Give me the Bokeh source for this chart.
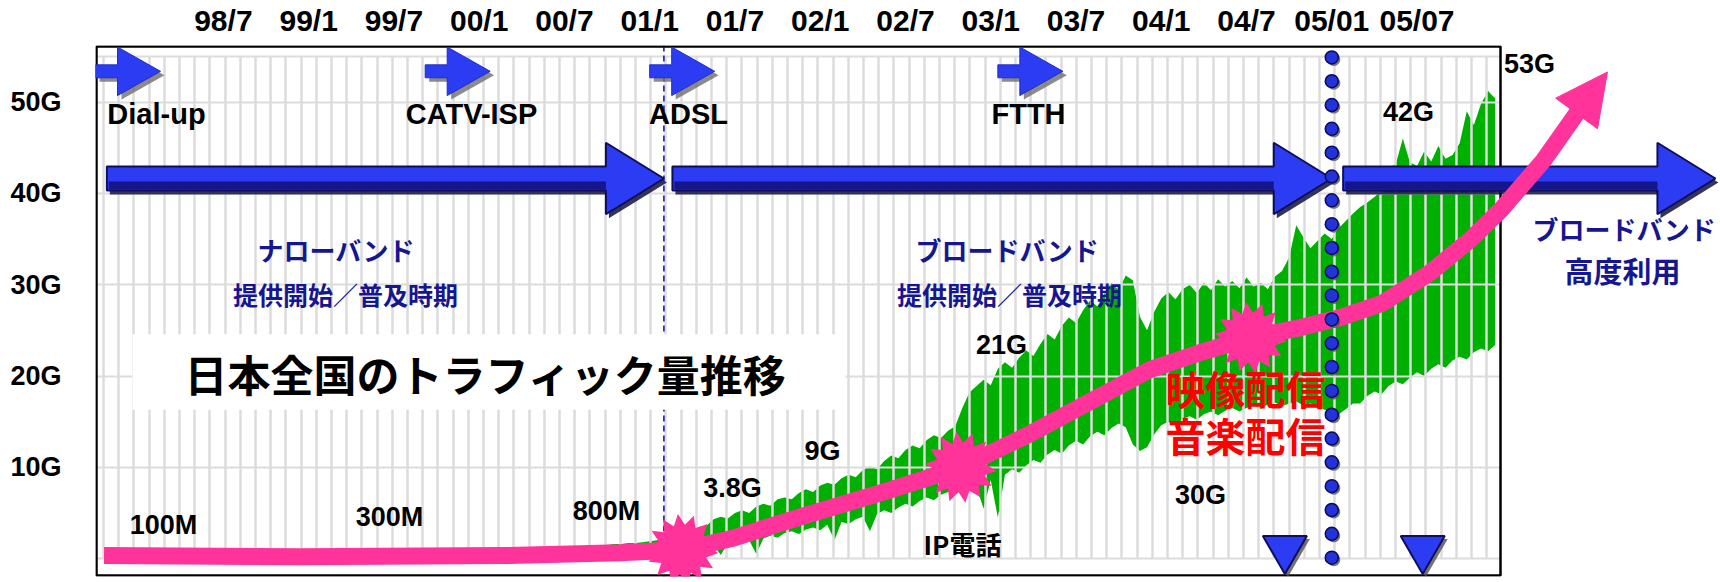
import numpy as np
from bokeh.plotting import figure
from bokeh.models import Range1d, LinearAxis, FixedTicker, Grid, Span
from bokeh.core.properties import value
from bokeh.embed import file_html
from bokeh.resources import INLINE

FONT = "Noto Sans CJK JP"
LATIN = "Liberation Sans"

# ---------------- data ----------------
# x = months since 1998/01
month_ticks = [6, 12, 18, 24, 30, 36, 42, 48, 54, 60, 66, 72, 78, 84, 90]
month_labels = ["98/7", "99/1", "99/7", "00/1", "00/7", "01/1", "01/7", "02/1",
                "02/7", "03/1", "03/7", "04/1", "04/7", "05/01", "05/07"]
gbps_ticks = [10, 20, 30, 40, 50]
gbps_labels = ["10G", "20G", "30G", "40G", "50G"]

# traffic samples, every half month from 2000/08 (month 31.0) to 2005/12 (95.5)
green_months = np.arange(31.0, 96.0, 0.5)
traffic_peak = [
    1.3, 1.4, 1.4, 1.5, 1.5, 1.6, 1.6, 1.7, 1.7, 1.8,
    1.9, 2.0, 2.2, 2.6, 2.9, 2.7, 3.2, 3.5, 3.6, 4.3,
    4.6, 4.4, 5.0, 5.3, 5.0, 5.7, 6.0, 5.8, 6.5, 6.7,
    6.5, 7.2, 7.6, 7.3, 8.0, 8.3, 8.1, 8.8, 9.2, 8.9,
    9.7, 10.1, 9.8, 10.7, 11.3, 11.0, 11.9, 12.4, 12.1, 13.0,
    13.5, 13.2, 14.0, 14.5, 16.5, 18.2, 18.9, 19.6, 19.0, 20.8,
    21.5, 20.9, 22.0, 22.8, 22.2, 23.5, 24.6, 24.0, 25.5, 26.4,
    25.8, 27.2, 28.3, 27.6, 29.0, 30.2, 29.4, 31.0, 30.5, 26.5,
    25.0, 27.0, 28.5, 29.2, 28.4, 29.5, 30.0, 29.1, 30.2, 29.4,
    30.6, 29.8, 30.4, 29.6, 30.8, 29.8, 30.2, 29.5, 30.9, 31.5,
    33.0, 36.5, 35.2, 34.0, 34.8, 35.6, 35.0, 36.2, 37.0, 37.8,
    38.5, 39.0, 39.6, 40.3, 42.8, 43.2, 46.0, 43.4, 43.0, 44.6,
    43.5, 45.2, 43.8, 44.2, 45.5, 49.0, 47.5, 49.8, 51.2, 50.4,
]
traffic_low = [
    0.6, 0.6, 0.6, 0.7, 0.7, 0.7, 0.7, 0.8, 0.8, 0.8,
    0.8, 0.9, 0.9, 1.0, 1.1, 0.9, 1.2, 1.3, 1.1, 1.5,
    0.4, 1.7, 1.8, 1.6, 2.0, 0.5, 2.2, 2.5, 2.3, 2.8,
    3.0, 2.7, 3.2, 3.4, 3.1, 3.7, 2.0, 4.0, 3.8, 4.3,
    4.6, 3.0, 4.9, 5.3, 5.0, 5.6, 6.0, 5.7, 6.3, 6.7,
    6.4, 7.0, 7.3, 7.0, 7.6, 8.0, 7.8, 5.5, 8.6, 4.5,
    9.2, 9.8, 9.4, 10.2, 10.8, 10.5, 11.4, 11.9, 11.5, 12.4,
    12.9, 12.5, 13.4, 13.9, 13.5, 14.3, 14.8, 14.4, 12.5, 11.8,
    12.2, 13.6, 14.6, 15.0, 14.6, 15.3, 15.6, 15.2, 15.8, 16.1,
    15.7, 16.2, 16.5, 16.1, 16.5, 16.8, 16.4, 16.9, 17.1, 16.7,
    17.0, 17.2, 16.8, 17.0, 16.6, 16.3, 16.0, 15.8, 16.4, 17.0,
    17.0, 17.8, 18.3, 18.0, 18.9, 19.4, 19.1, 19.8, 20.4, 20.0,
    20.8, 21.3, 20.9, 21.7, 22.1, 21.8, 22.6, 23.0, 22.7, 23.4,
]

# pink trend curve (months, Gbps) and its arrow tip
trend_months = [-2.4, 11.4, 25.5, 33.9, 38.3, 41.7, 46.6, 52.2, 57.9, 62.8, 67.0,
                71.2, 74.8, 78.3, 81.8, 84.6, 87.6, 90.9, 93.8, 95.9, 98.9, 101.3]
trend_gbps = [0.33, 0.22, 0.33, 0.65, 0.98, 2.17, 4.57, 7.17, 10.0, 13.7, 17.2,
              20.7, 22.6, 24.2, 25.3, 26.4, 28.0, 31.3, 35.0, 38.2, 43.6, 48.9]
trend_tip = (103.4, 53.3)

milestone_months = [38.3, 57.9, 78.3]
milestone_gbps = [1.0, 10.0, 24.2]

tech_names = ["Dial-up", "CATV-ISP", "ADSL", "FTTH"]
tech_start = [-3.0, 20.2, 36.0, 60.5]

period_start = [-2.2, 37.6, 84.8]
period_end = [37.0, 84.0, 111.0]
adsl_boundary = 37.0
broadband_boundary = 84.0
event_months = [80.7, 90.4]

# ---------------- pixel helpers (layout only) ----------------
X0_PX, M0, PX_PER_M = 95.0, -3.0, 14.21
Y0_PX, PX_PER_G = 558.0, 9.2


def mx(px):
    return M0 + (px - X0_PX) / PX_PER_M


def gy(py):
    return (Y0_PX - py) / PX_PER_G


def pxm(m):
    return X0_PX + (m - M0) * PX_PER_M


def pyg(g):
    return Y0_PX - g * PX_PER_G


p = figure(width=1720, height=582,
           x_range=Range1d(mx(95), mx(1720)), y_range=Range1d(gy(576), gy(41)),
           output_backend="svg", toolbar_location=None,
           x_axis_location=None, y_axis_location=None,
           min_border_left=95, min_border_right=0, min_border_top=41, min_border_bottom=6,
           outline_line_color=None, background_fill_color="white", border_fill_color="white")

p.center = [r for r in p.center if not isinstance(r, Grid)]

# axes
ax_top = LinearAxis(ticker=FixedTicker(ticks=month_ticks),
                    major_label_overrides={t: l for t, l in zip(month_ticks, month_labels)},
                    axis_line_color=None, major_tick_line_color=None, minor_tick_line_color=None,
                    major_label_text_font=LATIN, major_label_text_font_size="30px",
                    major_label_text_font_style="bold",
                    major_label_text_color="black", major_label_standoff=3)
p.add_layout(ax_top, "above")
ax_left = LinearAxis(ticker=FixedTicker(ticks=gbps_ticks),
                     major_label_overrides={t: l for t, l in zip(gbps_ticks, gbps_labels)},
                     axis_line_color=None, major_tick_line_color=None, minor_tick_line_color=None,
                     major_label_text_font=LATIN, major_label_text_font_size="27px",
                     major_label_text_font_style="bold",
                     major_label_text_color="black", major_label_standoff=28)
p.add_layout(ax_left, "left")

# green traffic band (below grid)
g = p.varea(x=green_months, y1=traffic_low, y2=traffic_peak, fill_color="#00b000")
g.level = "image"

# grids
vticks = list(np.arange(mx(103), mx(1500), 15.2 / PX_PER_M))
try:
    xg = Grid(dimension=0, ticker=FixedTicker(ticks=vticks), grid_line_color="#dcdcdc",
              grid_line_width=2.5, cross_bounds=(0, 55))
    yg = Grid(dimension=1, ticker=FixedTicker(ticks=[0, 10, 20, 30, 40, 50, 55]),
              grid_line_color="#dcdcdc", grid_line_width=2, cross_bounds=(mx(95), mx(1500)))
except Exception:
    xg = Grid(dimension=0, ticker=FixedTicker(ticks=vticks), grid_line_color="#dcdcdc",
              grid_line_width=2.5)
    yg = Grid(dimension=1, ticker=FixedTicker(ticks=[0, 10, 20, 30, 40, 50, 55]),
              grid_line_color="#dcdcdc", grid_line_width=2)
p.add_layout(xg, "center")
p.add_layout(yg, "center")

p.add_layout(Span(location=adsl_boundary, dimension="height", line_color="#1c1c96",
                  line_dash="6 4", line_width=1.6, level="underlay"))

# frame border
p.quad(left=[mx(96)], right=[mx(1500)], bottom=[gy(575)], top=[gy(42)],
       fill_color=None, line_color="black", line_width=2.5)


def to_data(xs_px, ys_px):
    return [mx(x) for x in xs_px], [gy(y) for y in ys_px]


# big period arrows
yc = 175.0
sh_xs, sh_ys, ar_xs, ar_ys, band_xs, band_ys = [], [], [], [], [], []
for s, e in zip(period_start, period_end):
    x0, tip = pxm(s), pxm(e)
    hb = tip - 58
    xs = [x0, hb, hb, tip, hb, hb, x0]
    ys = [yc - 12, yc - 12, yc - 36, yc, yc + 36, yc + 12, yc + 12]
    a, b = to_data([x + 3 for x in xs], [y + 4 for y in ys])
    sh_xs.append(a); sh_ys.append(b)
    a, b = to_data(xs, ys)
    ar_xs.append(a); ar_ys.append(b)
    a, b = to_data([x0 + 2, hb, hb, x0 + 2], [yc + 3, yc + 3, yc + 11, yc + 11])
    band_xs.append(a); band_ys.append(b)
p.patches(sh_xs, sh_ys, fill_color="#101040", line_color=None, fill_alpha=0.85)
p.patches(ar_xs, ar_ys, fill_color="#2b3cf2", line_color="#0e0e5a", line_width=2)
p.patches(band_xs, band_ys, fill_color="#15158c", line_color=None)

# small technology arrows
yc2 = 67.0
s_xs, s_ys, a_xs, a_ys = [], [], [], []
for s in tech_start:
    x0 = pxm(s)
    xs = [x0, x0 + 22, x0 + 22, x0 + 65, x0 + 22, x0 + 22, x0]
    ys = [yc2 - 6.5, yc2 - 6.5, yc2 - 24.5, yc2, yc2 + 24.5, yc2 + 6.5, yc2 + 6.5]
    a, b = to_data([x + 4 for x in xs], [y + 4 for y in ys])
    s_xs.append(a); s_ys.append(b)
    a, b = to_data(xs, ys)
    a_xs.append(a); a_ys.append(b)
p.patches(s_xs, s_ys, fill_color="#6e6e6e", line_color=None, fill_alpha=0.8)
p.patches(a_xs, a_ys, fill_color="#2b3cf2", line_color="#2030c0", line_width=1)

# title box
p.quad(left=[mx(132)], right=[mx(845)], top=[gy(332)], bottom=[gy(408)],
       fill_color="white", line_color=None)

# pink trend arrow
p.line(trend_months, trend_gbps, line_color="#ff3399", line_width=17,
       line_join="round", line_cap="butt")
bx, by = pxm(trend_months[-1]), pyg(trend_gbps[-1])
tx, ty = pxm(trend_tip[0]), pyg(trend_tip[1])
d = np.array([tx - bx, ty - by]); d = d / np.hypot(*d)
perp = np.array([-d[1], d[0]])
base = np.array([tx, ty]) - 52 * d
c1 = base + 26 * perp; c2 = base - 26 * perp
hx, hy = to_data([tx, c1[0], c2[0]], [ty, c1[1], c2[1]])
p.patch(hx, hy, fill_color="#ff3399", line_color="#ff3399", line_width=1)

# starbursts on trend
st_xs, st_ys = [], []
ang = np.linspace(0, 2 * np.pi, 28, endpoint=False) + 0.1
rad = np.where(np.arange(28) % 2 == 0, 36.0, 25.0)
for m, v in zip(milestone_months, milestone_gbps):
    cx, cy = pxm(m), pyg(v)
    a, b = to_data(cx + rad * np.cos(ang), cy + rad * np.sin(ang))
    st_xs.append(a); st_ys.append(b)
p.patches(st_xs, st_ys, fill_color="#ff3399", line_color=None)

# event markers
ev_y = [gy(548)] * len(event_months)
p.scatter([m + 3 / PX_PER_M for m in event_months], [v - 3 / PX_PER_G for v in ev_y],
          marker="inverted_triangle", size=44, fill_color="#505050", line_color=None, fill_alpha=0.8)
p.scatter(event_months, ev_y, marker="inverted_triangle", size=44,
          fill_color="#2b3cf2", line_color="#0e0e5a", line_width=2)


def txt(x_px, y_px, s, size, color="black", bold=False, font=FONT):
    p.text(x=[mx(x_px)], y=[gy(y_px)], text=[s], text_font=value(font),
           text_font_size=size, text_color=color,
           text_font_style="bold" if bold else "normal",
           text_align="center", text_baseline="middle")


# technology labels
for name, xc in zip(tech_names, [156, 471, 688, 1028]):
    txt(xc, 110, name, "29px", bold=True, font=LATIN)

# period texts
NAVY = "#161690"
txt(335, 247, "ナローバンド", "26px", NAVY, True)
txt(345, 291, "提供開始／普及時期", "25px", NAVY, True)
txt(1006, 247, "ブロードバンド", "26px", NAVY, True)
txt(1009, 291, "提供開始／普及時期", "25px", NAVY, True)
txt(1623, 225, "ブロードバンド", "26px", NAVY, True)
txt(1622, 267, "高度利用", "29px", NAVY, True)

# title
txt(485, 371, "日本全国のトラフィック量推移", "43px", "black", True)

# value labels
for s, (x, y) in zip(["100M", "300M", "800M", "3.8G", "9G", "21G", "30G", "42G", "53G"],
                     [(163, 524), (389, 516), (606, 510), (732, 487), (822, 450), (1001, 343),
                      (1200, 494), (1408, 108), (1529, 60)]):
    txt(x, y, s, "27px", bold=True, font=LATIN)
txt(962, 543, "IP電話", "26px", bold=True)

txt(1245, 386, "映像配信", "40px", "#ff0000", True)
txt(1245, 433, "音楽配信", "40px", "#ff0000", True)

# dotted boundary of balls
ball_y = np.linspace(gy(557), gy(53), 22)
ball_x = [broadband_boundary] * len(ball_y)
p.scatter([broadband_boundary + 2 / PX_PER_M] * len(ball_y), ball_y - 2 / PX_PER_G,
          marker="circle", size=13, fill_color="#555555", line_color=None, fill_alpha=0.8)
p.scatter(ball_x, ball_y, marker="circle", size=13, fill_color="#2233d8",
          line_color="#0a0a60", line_width=1.5)

open("out.html", "w").write(file_html(p, INLINE))
